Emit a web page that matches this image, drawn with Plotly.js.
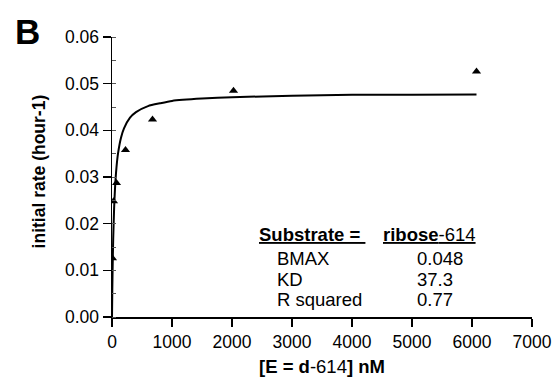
<!DOCTYPE html>
<html>
<head>
<meta charset="utf-8">
<script src="https://cdn.plot.ly/plotly-3.0.1.min.js"></script>
<style>html,body{margin:0;padding:0;background:#fff;}#chart{width:555px;height:385px;}</style>
</head>
<body>
<div id="chart"></div>
<script>
// Measured points (triangles)
const concentration = [8, 25, 75, 225, 675, 2025, 6075];
const initialRate = [0.0126, 0.0248, 0.0287, 0.0358, 0.0423, 0.0485, 0.0526];
// Fitted curve
const curveX = [0, 5, 10, 20, 35, 50, 75, 100, 150, 200, 300, 400, 600, 800, 1000, 1500, 2000, 3000, 4000, 5000, 6075];
const curveY = [0, 0.0057, 0.0101, 0.0167, 0.0232, 0.0275, 0.0321, 0.0350, 0.0384, 0.0404, 0.0427, 0.0439, 0.0452, 0.0458, 0.0463, 0.0468, 0.0471, 0.0474, 0.0476, 0.0476, 0.0477];
// Table texts
const tableLabels = ["BMAX", "KD", "R squared"];
const tableValues = ["0.048", "37.3", "0.77"];

const F = "Liberation Sans, Arial, Helvetica, sans-serif";
const px0 = 112.3, pxW = 420, py0 = 317.3, pyH = 280;
const toPX = p => (p - px0) / pxW;
const toPY = p => (py0 - p) / pyH;

const traces = [
  {x: curveX, y: curveY, mode: 'lines', line: {color: '#000', width: 2, shape: 'spline', smoothing: 0.6}, hoverinfo: 'skip'},
  {x: concentration, y: initialRate, mode: 'markers', marker: {symbol: 'triangle-up', size: 8, color: '#000'}}
];

const rowPY = [258.5, 279.5, 300];
const TS = 18.5;
const ann = [
  {text: '<b>B</b>', xref: 'paper', yref: 'paper', x: toPX(13), y: toPY(32), xanchor: 'left', yanchor: 'middle', showarrow: false, font: {family: F, size: 35, color: '#000'}},
  {text: '<b>initial rate (hour-1)</b>', xref: 'paper', yref: 'paper', x: toPX(39), y: toPY(172), textangle: -90, xanchor: 'center', yanchor: 'middle', showarrow: false, font: {family: F, size: 17.5, color: '#000'}},
  {text: '<b>[E = d</b>-614<b>] nM</b>', xref: 'paper', yref: 'paper', x: toPX(322), y: toPY(367), xanchor: 'center', yanchor: 'middle', showarrow: false, font: {family: F, size: 18.5, color: '#000'}},
  {text: '<u><b>Substrate = </b></u>', xref: 'paper', yref: 'paper', x: toPX(257), y: toPY(235), xanchor: 'left', yanchor: 'middle', showarrow: false, font: {family: F, size: TS, color: '#000'}},
  {text: '<u><b>ribose</b>-614</u>', xref: 'paper', yref: 'paper', x: toPX(381), y: toPY(235), xanchor: 'left', yanchor: 'middle', showarrow: false, font: {family: F, size: TS, color: '#000'}}
];
tableLabels.forEach((t, i) => {
  ann.push({text: t, xref: 'paper', yref: 'paper', x: toPX(275), y: toPY(rowPY[i]), xanchor: 'left', yanchor: 'middle', showarrow: false, font: {family: F, size: TS, color: '#000'}});
  ann.push({text: tableValues[i], xref: 'paper', yref: 'paper', x: toPX(415), y: toPY(rowPY[i]), xanchor: 'left', yanchor: 'middle', showarrow: false, font: {family: F, size: TS, color: '#000'}});
});

const layout = {
  width: 555, height: 385,
  margin: {l: 112.3, r: 22.7, t: 37.3, b: 67.7},
  paper_bgcolor: '#fff', plot_bgcolor: '#fff',
  showlegend: false,
  font: {family: F, size: 17, color: '#000'},
  xaxis: {range: [0, 7000], tickvals: [0,1000,2000,3000,4000,5000,6000,7000], ticks: 'outside', ticklen: 8, tickwidth: 1.5, tickcolor: '#000',
          showline: true, linecolor: '#000', linewidth: 1.5, showgrid: false, zeroline: false, tickfont: {family: F, size: 17.5}, fixedrange: true},
  yaxis: {range: [0, 0.06], tickvals: [0,0.01,0.02,0.03,0.04,0.05,0.06], tickformat: '.2f', ticks: 'outside', ticklen: 8, tickwidth: 1.5, tickcolor: '#000',
          showline: true, linecolor: '#000', linewidth: 1.5, showgrid: false, zeroline: false, tickfont: {family: F, size: 17.5},
          minor: {dtick: 0.005, ticks: 'inside', ticklen: 4, tickwidth: 1, tickcolor: '#555'}, fixedrange: true},
  annotations: ann
};

Plotly.newPlot('chart', traces, layout, {staticPlot: true, displayModeBar: false});
</script>
</body>
</html>
